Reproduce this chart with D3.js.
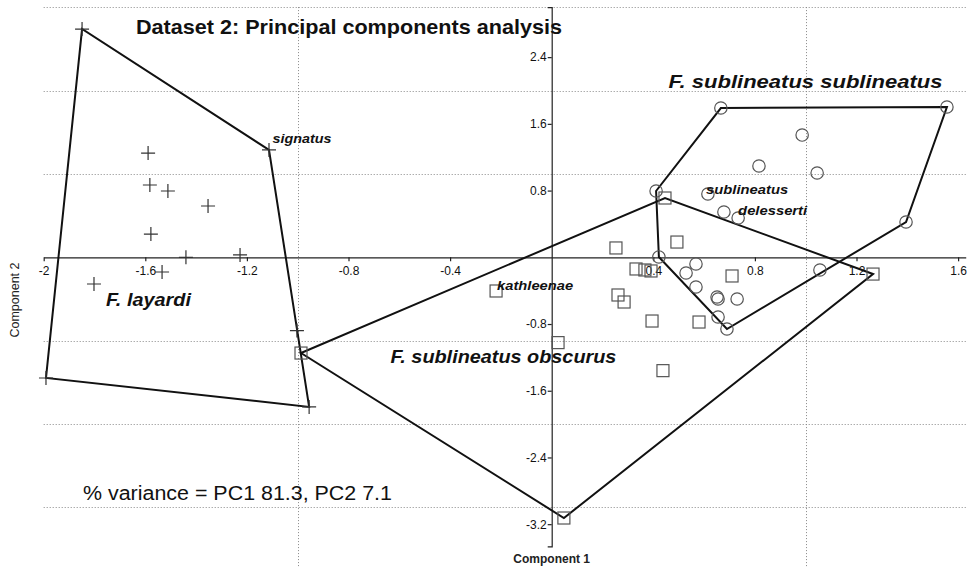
<!DOCTYPE html>
<html><head><meta charset="utf-8">
<script src="https://cdn.jsdelivr.net/npm/d3@7"></script>
<style>
body{margin:0;background:#fff;}
svg{display:block;font-family:"Liberation Sans",Arial,sans-serif;}
</style></head>
<body><svg id="c" width="973" height="568"></svg>
<script>
// ---- data (PC1, PC2) ----
const layardiX = [-1.849,-1.113,-1.589,-1.582,-1.511,-1.353,-1.578,-1.440,-1.227,-1.534,-1.802,-1.003,-1.991,-0.955];
const layardiY = [2.737,1.287,1.250,0.867,0.795,0.615,0.279,0.000,0.028,-0.176,-0.320,-0.879,-1.447,-1.794];
const obscurusX = [0.446,1.265,0.048,-0.987,-0.219,0.025,0.438,0.253,0.493,0.332,0.367,0.391,0.710,0.261,0.285,0.395,0.580];
const obscurusY = [0.711,-0.201,-3.126,-1.148,-0.404,-1.023,-1.359,0.112,0.183,-0.140,-0.152,-0.164,-0.224,-0.452,-0.536,-0.764,-0.776];
const sublineatusX = [0.666,1.556,0.986,0.816,1.045,0.411,0.615,0.678,0.734,1.395,0.422,0.568,0.529,1.056,0.568,0.651,0.655,0.730,0.655,0.690];
const sublineatusY = [1.790,1.802,1.466,1.095,1.011,0.795,0.759,0.543,0.471,0.423,0.004,-0.080,-0.188,-0.152,-0.356,-0.476,-0.500,-0.500,-0.716,-0.860];
const xTicks = [-2,-1.6,-1.2,-0.8,-0.4,0.4,0.8,1.2,1.6];
const yTicks = [2.4,1.6,0.8,-0.8,-1.6,-2.4,-3.2];
const xGrid = [-1,1];
const yGrid = [3,2,1,-1,-2,-3];
const groupNames = ["F. sublineatus sublineatus", "F. layardi", "F. sublineatus obscurus"];
const groupAnchorX = [0.46, -1.755, -0.635];
const groupAnchorY = [2.03, -0.58, -1.27];
const pointNames = ["signatus", "kathleenae", "sublineatus", "delesserti"];
const pointAnchorX = [-1.099, -0.215, 0.608, 0.734];
const pointAnchorY = [1.37, -0.395, 0.76, 0.51];
const title = "Dataset 2: Principal components analysis";
const varianceText = "% variance = PC1 81.3, PC2 7.1";

// ---- styling (kept separate from data) ----
const groupFont = [18.5, 18, 18];
const groupLen = [274, 85, 226];
const pointLen = [59, 76, 82, 69];

// ---- scales ----
const svg = d3.select("#c");
const x = d3.scaleLinear().domain([-2, 1.63]).range([43.7, 43.7 + 3.63*254]);
const y = d3.scaleLinear().domain([-3.465, 3.0]).range([257.3 + 3.465*83.4, 257.3 - 3.0*83.4]);
const fmt = d => String(d);

// grid
const g = svg.append("g").attr("stroke","#888").attr("stroke-width",1).attr("stroke-dasharray","1,2");
g.selectAll(".gy").data(yGrid).join("line")
  .attr("x1", x(-2)).attr("x2", x(1.63)).attr("y1", d=>Math.round(y(d))+0.5).attr("y2", d=>Math.round(y(d))+0.5);
g.selectAll(".gx").data(xGrid).join("line")
  .attr("y1", y(3)).attr("y2", 568).attr("x1", d=>Math.round(x(d))+0.5).attr("x2", d=>Math.round(x(d))+0.5);

// axes
const ax = svg.append("g").attr("transform",`translate(0,${y(0)})`)
  .call(d3.axisBottom(x).tickValues(xTicks).tickFormat(fmt).tickSize(4).tickSizeOuter(0).tickPadding(5));
const ay = svg.append("g").attr("transform",`translate(${x(0)},0)`)
  .call(d3.axisLeft(y).tickValues(yTicks).tickFormat(fmt).tickSize(4).tickSizeOuter(4).tickPadding(1));
[ax, ay].forEach(a => {
  a.selectAll("path,line").attr("stroke","#222").attr("stroke-width",1.2);
  a.selectAll("text").attr("font-size",12).attr("fill","#111").attr("font-family","Liberation Sans, Arial, sans-serif");
});

// groups
function pts(X, Y){ return X.map((v,i)=>[x(v), y(Y[i])]); }
const groups = [
  {p: pts(layardiX, layardiY), m:"cross"},
  {p: pts(obscurusX, obscurusY), m:"square"},
  {p: pts(sublineatusX, sublineatusY), m:"circle"}
];
const hullG = svg.append("g");
groups.forEach(gr => {
  const h = d3.polygonHull(gr.p);
  hullG.append("path").attr("d", "M" + h.join("L") + "Z")
    .attr("fill","none").attr("stroke","#111").attr("stroke-width",2).attr("stroke-linejoin","miter");
});
const mk = svg.append("g").attr("fill","none").attr("stroke","#555").attr("stroke-width",1.2);
groups.forEach(gr => {
  gr.p.forEach(([px,py]) => {
    if (gr.m === "cross") {
      mk.append("path").attr("d",`M${px-7},${py}H${px+7}M${px},${py-7}V${py+7}`).attr("stroke","#333");
    } else if (gr.m === "square") {
      mk.append("rect").attr("x",px-6).attr("y",py-6).attr("width",12).attr("height",12);
    } else {
      mk.append("circle").attr("cx",px).attr("cy",py).attr("r",6.2);
    }
  });
});

// texts
svg.append("text").attr("x",136).attr("y",34).attr("font-size",20.5).attr("font-weight","bold")
  .attr("textLength",426).attr("lengthAdjust","spacingAndGlyphs")
  .attr("fill","#111").text(title);
groupNames.forEach((t,i) => {
  svg.append("text").attr("x",x(groupAnchorX[i])).attr("y",y(groupAnchorY[i])).attr("font-size",groupFont[i])
    .attr("textLength",groupLen[i]).attr("lengthAdjust","spacingAndGlyphs")
    .attr("font-weight","bold").attr("font-style","italic").attr("fill","#111").text(t);
});
pointNames.forEach((t,i) => {
  svg.append("text").attr("x",x(pointAnchorX[i])).attr("y",y(pointAnchorY[i])).attr("font-size",13)
    .attr("textLength",pointLen[i]).attr("lengthAdjust","spacingAndGlyphs")
    .attr("font-weight","bold").attr("font-style","italic").attr("fill","#111").text(t);
});
svg.append("text").attr("x",83).attr("y",500).attr("font-size",19.5)
  .attr("textLength",309).attr("lengthAdjust","spacingAndGlyphs").attr("fill","#111").text(varianceText);
svg.append("text").attr("x",x(0)).attr("y",563).attr("text-anchor","middle")
  .attr("font-size",12).attr("font-weight","bold").attr("fill","#222").text("Component 1");
svg.append("text").attr("transform","translate(19,300) rotate(-90)").attr("text-anchor","middle")
  .attr("font-size",12.5).attr("fill","#222").text("Component 2");
</script></body></html>
